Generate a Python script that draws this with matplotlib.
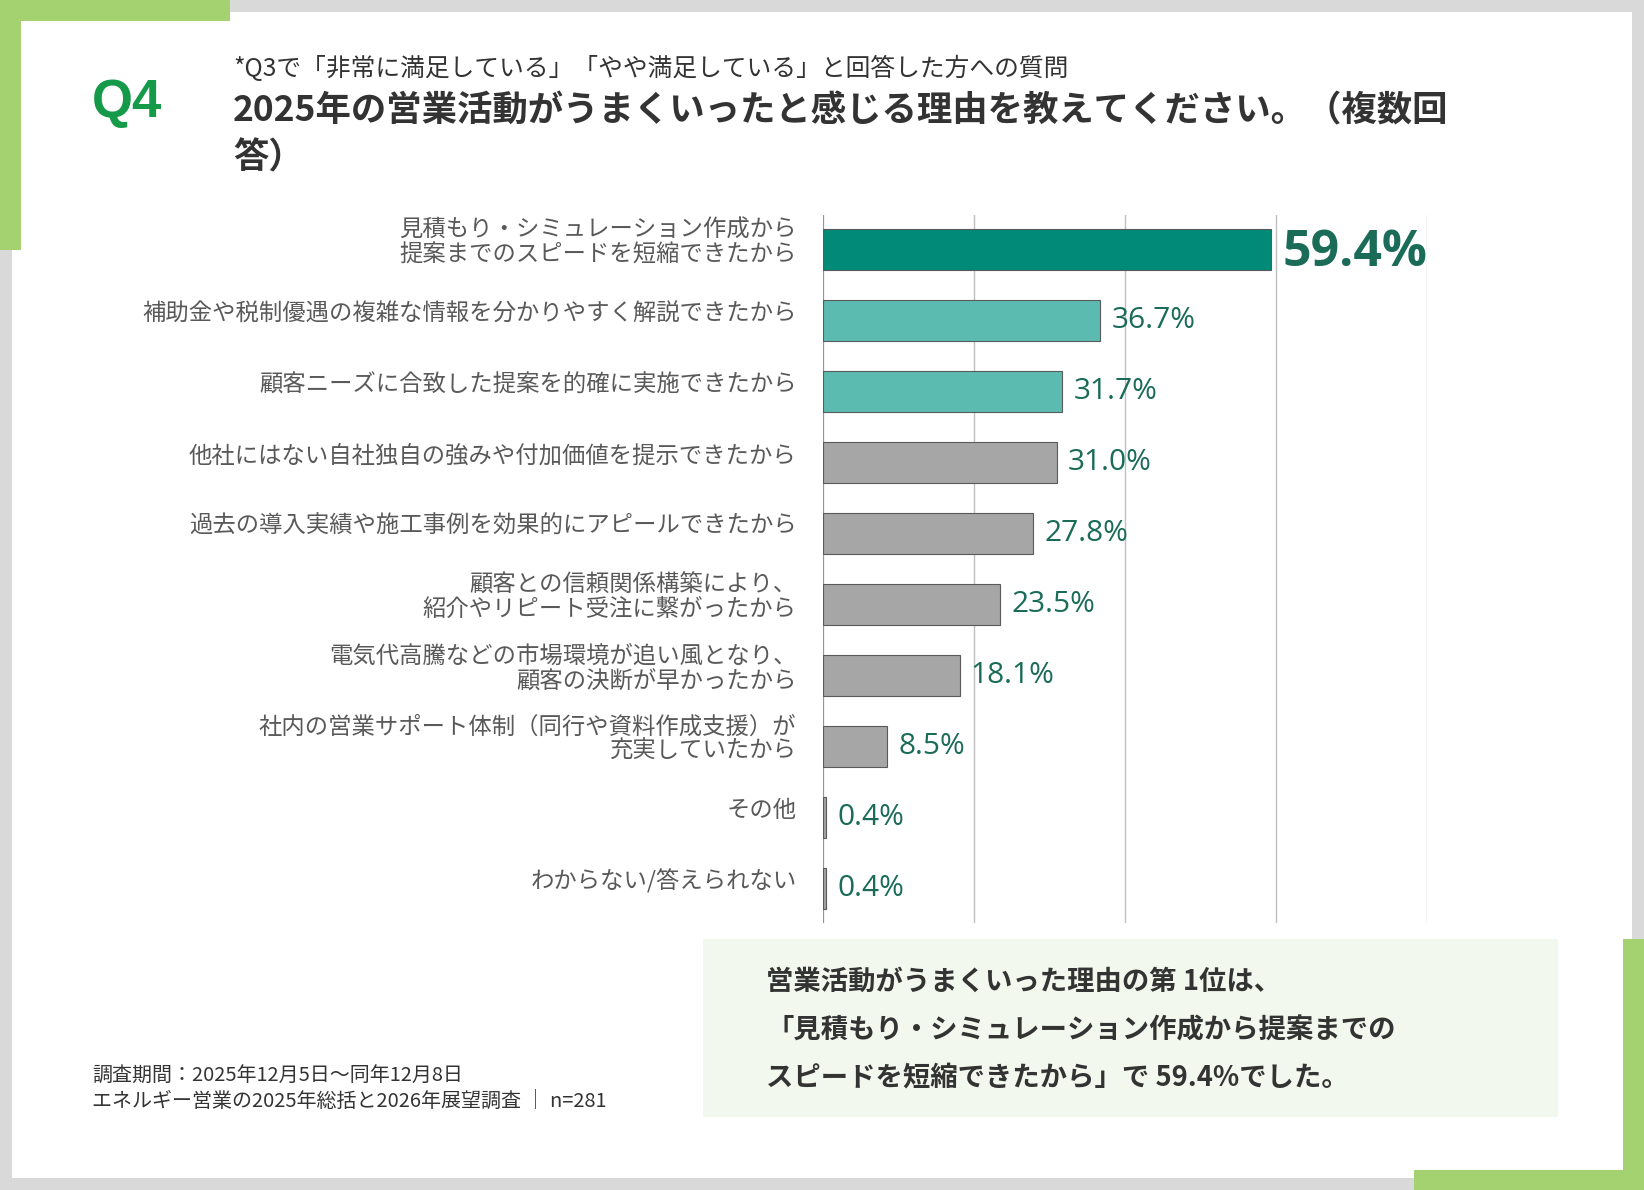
#!/usr/bin/env python3
"""Q4 bar chart: reasons sales activity went well in 2025."""
import matplotlib
matplotlib.use("Agg")
import matplotlib.pyplot as plt
from matplotlib.patches import Rectangle

plt.rcParams["font.family"] = ["Noto Sans CJK JP", "DejaVu Sans"]

# data
reasons = [
    "見積もり・シミュレーション作成から\n提案までのスピードを短縮できたから",
    "補助金や税制優遇の複雑な情報を分かりやすく解説できたから",
    "顧客ニーズに合致した提案を的確に実施できたから",
    "他社にはない自社独自の強みや付加価値を提示できたから",
    "過去の導入実績や施工事例を効果的にアピールできたから",
    "顧客との信頼関係構築により、\n紹介やリピート受注に繋がったから",
    "電気代高騰などの市場環境が追い風となり、\n顧客の決断が早かったから",
    "社内の営業サポート体制（同行や資料作成支援）が\n充実していたから",
    "その他",
    "わからない/答えられない",
]
shares = [59.4, 36.7, 31.7, 31.0, 27.8, 23.5, 18.1, 8.5, 0.4, 0.4]
bar_colors = ["#008A77", "#5BBBB1", "#5BBBB1"] + ["#A6A6A6"] * 7
x_ticks = [0, 20, 40, 60, 80]

subtitle = "*Q3で「非常に満足している」「やや満足している」と回答した方への質問"
title_lines = ["2025年の営業活動がうまくいったと感じる理由を教えてください。（複数回", "答）"]
summary_lines = [
    "営業活動がうまくいった理由の第 1位は、",
    "「見積もり・シミュレーション作成から提案までの",
    "スピードを短縮できたから」で 59.4%でした。",
]
notes = ["調査期間：2025年12月5日～同年12月8日",
         "エネルギー営業の2025年総括と2026年展望調査 │ n=281"]

W, H = 1644, 1190
GREEN = "#A5D271"
VALUE = "#1A6B58"


def fx(x):
    return x / W


def fy(y):
    return 1 - y / H


def box(x0, y0, x1, y1, color):
    fig.add_artist(Rectangle((fx(x0), fy(y1)), fx(x1 - x0), (y1 - y0) / H,
                             transform=fig.transFigure, color=color, lw=0, zorder=0))


fig = plt.figure(figsize=(W / 100, H / 100), dpi=100)
fig.patch.set_facecolor("#D9D9D9")

# frame
box(12, 12, 1632, 1178, "white")
box(0, 0, 230, 21, GREEN)
box(0, 0, 21, 250, GREEN)
box(1623, 939, 1644, 1190, GREEN)
box(1414, 1170, 1644, 1190, GREEN)
box(703, 939, 1558, 1117, "#F3F8EE")

# header
fig.text(fx(92), fy(103), "Q4", family="Liberation Sans", weight="bold",
         fontsize=38, color="#149A48", va="center")
fig.text(fx(233), fy(69), subtitle, fontsize=17.8, color="#333333", va="center")
for i, line in enumerate(title_lines):
    fig.text(fx(233), fy(111 + 47 * i), line, fontsize=25.5, weight="bold",
             color="#333333", va="center")

# chart
ax = fig.add_axes([fx(823), fy(923), (1427 - 823) / W, (923 - 215) / H])
pos = list(range(len(shares)))
ax.barh(pos, shares, height=0.58, color=bar_colors, edgecolor="#5A5A5A",
        linewidth=0.8, zorder=3)
ax.set_xlim(0, 80)
ax.set_ylim(len(shares) - 0.51, -0.49)
ax.set_xticks(x_ticks)
ax.xaxis.grid(True, color="#BFBFBF", linewidth=1)
ax.set_axisbelow(True)
ax.axvline(0, color="#8C8C8C", linewidth=1.2, zorder=2)
ax.tick_params(length=0, labelbottom=False, labelleft=False)
for s in ax.spines.values():
    s.set_visible(False)

for i, (lab, v) in enumerate(zip(reasons, shares)):
    ax.annotate(lab, xy=(0, i), xycoords=ax.get_yaxis_transform(),
                xytext=(-19, 5), textcoords="offset points", ha="right",
                va="center", multialignment="right", fontsize=16.8,
                color="#595959", linespacing=1.1, annotation_clip=False)
    big = i == 0
    ax.annotate(f"{v:.1f}%", xy=(v, i), xytext=(8, -2 if big else 0),
                textcoords="offset points", va="center",
                family=["Open Sans", "DejaVu Sans"],
                fontsize=36 if big else 21.5, weight="bold" if big else "medium",
                color=VALUE, annotation_clip=False)

# summary box text
for i, line in enumerate(summary_lines):
    fig.text(fx(766), fy(982 + 48 * i), line, fontsize=19.7, weight="bold",
             color="#333333", va="center")

# footnote
for i, line in enumerate(notes):
    fig.text(fx(92), fy(1076 + 26 * i), line, fontsize=14.4, color="#333333",
             va="center")

fig.savefig("out.png", dpi=100, facecolor=fig.get_facecolor())
